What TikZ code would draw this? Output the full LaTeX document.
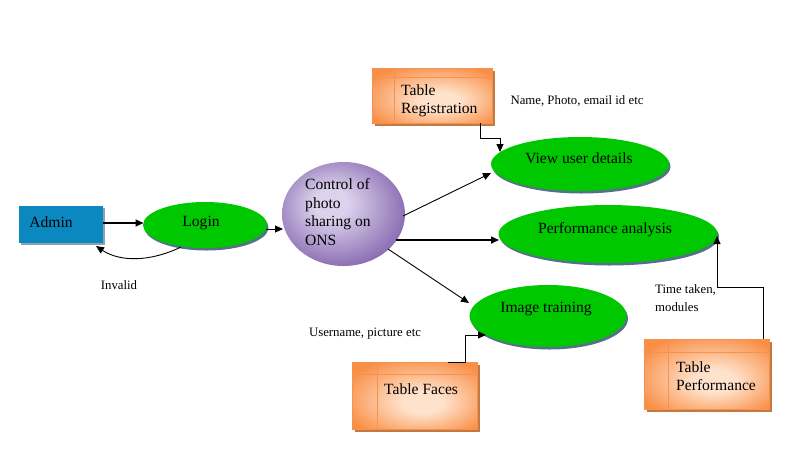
\documentclass[tikz,border=0pt]{standalone}
\usepackage{fontspec}
\setmainfont{Liberation Serif}
\usetikzlibrary{arrows.meta,shapes.geometric,shadows}
\definecolor{ellgreen}{HTML}{00C800}
\definecolor{ellshadow}{HTML}{56708A}
\definecolor{adminblue}{HTML}{0B88C0}
\definecolor{adminshadow}{HTML}{8FA0AE}
\definecolor{onslight}{HTML}{DCD2EC}
\definecolor{onsdark}{HTML}{8466AE}
\definecolor{tbllight}{HTML}{FFE2CC}
\definecolor{tbldark}{HTML}{F98E45}
\definecolor{tblborder}{HTML}{F3934E}
\definecolor{tblshadow}{HTML}{C47842}
\pgfdeclareradialshading{onsshade}{\pgfpoint{-6bp}{6bp}}{color(0bp)=(onslight); color(7bp)=(onslight); color(30bp)=(onsdark); color(50bp)=(onsdark)}
\pgfdeclareradialshading{tblshade}{\pgfpoint{4bp}{-6bp}}{color(0bp)=(tbllight); color(8bp)=(tbllight); color(32bp)=(tbldark); color(50bp)=(tbldark)}
\begin{document}
\begin{tikzpicture}[x=1pt,y=-1pt,
  greenell/.style={ellipse, draw=none, fill=ellgreen, inner sep=0pt,
    drop shadow={shadow xshift=1.5pt, shadow yshift=-2.5pt, fill=ellshadow, opacity=1}},
  tbl/.style={rectangle, draw=tblborder, line width=0.8pt, shading=tblshade, inner sep=0pt,
    drop shadow={shadow xshift=2.5pt, shadow yshift=-3pt, fill=tblshadow, opacity=1}},
  tblline/.style={draw=tblborder, line width=0.7pt},
  maintext/.style={font=\fontsize{15.6}{18}\selectfont, inner sep=0pt},
  smalltext/.style={font=\fontsize{12.8}{18}\selectfont, inner sep=0pt},
  arr/.style={-{Triangle[length=8pt,width=7pt]}, line width=0.9pt, black},
  thickarr/.style={-{Triangle[length=8pt,width=7pt]}, line width=1.6pt, black}
]
\useasboundingbox (0,0) rectangle (785,467);

% Admin
\node[rectangle, fill=adminblue, minimum width=84pt, minimum height=37pt, inner sep=0pt,
  drop shadow={shadow xshift=2pt, shadow yshift=-2pt, fill=adminshadow, opacity=1}] (admin) at (61,224.5) {};
\node[maintext] (admintxt) at (51,222.5) {Admin};

% Login
\node[greenell, minimum width=124pt, minimum height=46pt] (login) at (205,225) {};
\node[maintext] (logintxt) at (201,223.5) {Login};

% ONS circle
\node[ellipse, shading=onsshade, minimum width=123pt, minimum height=104pt, inner sep=0pt] (ons) at (343.5,214) {};
\node[maintext, anchor=west, align=left, font=\fontsize{15.6}{18.5}\selectfont] (onstxt) at (305,212) {Control of\\photo\\sharing on\\ONS};

% Ellipses on the right
\node[greenell, minimum width=178pt, minimum height=54pt] (view) at (580,164) {};
\node[maintext] (viewtxt) at (579,158.5) {View user details};
\node[greenell, minimum width=219pt, minimum height=58pt] (perf) at (608,234) {};
\node[maintext] (perftxt) at (605,229.5) {Performance analysis};
\node[greenell, minimum width=157pt, minimum height=62pt] (imgtr) at (548,316) {};
\node[maintext] (imgtrtxt) at (546,309) {Image training};

% Tables
\node[tbl, minimum width=120pt, minimum height=55pt] (treg) at (432,95.5) {};
\draw[tblline] ([yshift=-10pt]treg.north west) -- ([yshift=-10pt]treg.north east);
\draw[tblline] ([xshift=23pt]treg.north west) -- ([xshift=23pt]treg.south west);
\node[maintext, anchor=west, align=left] (tregtxt) at (401,100.5) {Table\\Registration};

\node[tbl, minimum width=125pt, minimum height=67pt] (tfaces) at (414.5,395.5) {};
\draw[tblline] ([yshift=-13pt]tfaces.north west) -- ([yshift=-13pt]tfaces.north east);
\draw[tblline] ([xshift=26pt]tfaces.north west) -- ([xshift=26pt]tfaces.south west);
\node[maintext, anchor=west] (tfacestxt) at (384,389) {Table Faces};

\node[tbl, minimum width=125pt, minimum height=70pt] (tperf) at (706.5,374) {};
\draw[tblline] ([yshift=-14pt]tperf.north west) -- ([yshift=-14pt]tperf.north east);
\draw[tblline] ([xshift=25pt]tperf.north west) -- ([xshift=25pt]tperf.south west);
\node[maintext, anchor=west, align=left] (tperftxt) at (676,376) {Table\\Performance};

% Free labels
\node[smalltext] (invalid) at (119,285) {Invalid};
\node[smalltext] (namelbl) at (577,101) {Name, Photo, email id etc};
\node[smalltext] (userlbl) at (365,334) {Username, picture etc};
\node[smalltext, anchor=west, align=left] (timelbl) at (655,298) {Time taken,\\modules};

% Connectors
\coordinate (adminR) at (103,223);
\coordinate (loginL) at (143.5,223);
\draw[thickarr] (adminR) -- (loginL);

\coordinate (loginB) at (181,247);
\coordinate (adminBR) at (96,246);
\draw[arr] (loginB) .. controls (150,262) and (120,262) .. (adminBR);

\coordinate (loginR) at (266,229);
\coordinate (onsL) at (283,229);
\draw[arr] (loginR) -- (onsL);

\coordinate (onsA) at (403,216);
\coordinate (viewL) at (491,173);
\draw[arr] (onsA) -- (viewL);

\coordinate (onsB) at (396,240);
\coordinate (perfL) at (499,240);
\draw[thickarr] (onsB) -- (perfL);

\coordinate (onsC) at (388,249);
\coordinate (imgtrL) at (469,303);
\draw[arr] (onsC) -- (imgtrL);

\coordinate (tregB) at (480,123);
\coordinate (viewT) at (500,152);
\draw[arr] (tregB) -- (480,138) -- (500,138) -- (viewT);

\coordinate (tfacesT) at (448,362);
\coordinate (imgtrLL) at (486,335);
\draw[arr] (tfacesT) -- (465,362) -- (465,335) -- (imgtrLL);

\coordinate (tperfT) at (763,339);
\coordinate (perfR) at (717,236);
\draw[arr] (tperfT) -- (763,287) -- (717,287) -- (perfR);
\end{tikzpicture}
\end{document}
